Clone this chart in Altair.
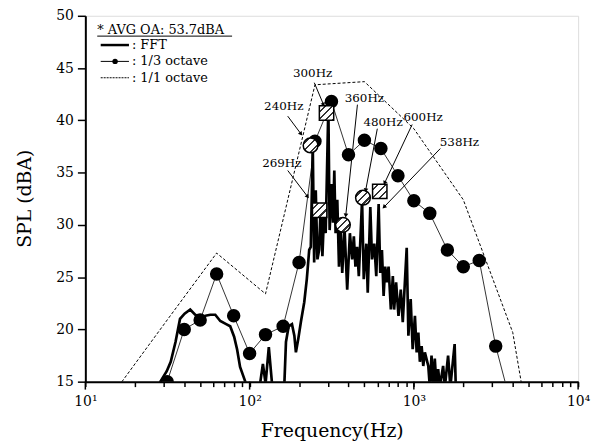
import altair as alt
import pandas as pd

# ---------------- data ----------------
# FFT narrow-band spectrum (Hz, dBA)
fft_freq = [26.5, 28.6, 31.3, 33.1, 35.4, 37.7, 40.2, 43.5, 46.6, 49.5,
            53.8, 57.7, 61.8, 66.3, 72.0, 76.2, 80.5, 83.9, 87.5, 93.2,
            96.4, 104.9, 115.1, 120.5, 125.1, 130.9, 137.5, 148.4, 162.9, 166.5,
            172.9, 181.1, 187.3, 191.4, 197.9, 205.2, 215.1, 223.0, 230.6, 235.8,
            242.4, 247.2, 252.8, 258.8, 265.0, 271.0, 277.5, 284.1, 290.5, 301.6,
            307.1, 315.8, 322.1, 327.9, 333.9, 341.9, 350.1, 357.9, 366.4, 378.4,
            392.8, 407.9, 421.1, 431.2, 440.9, 451.5, 462.3, 483.9, 495.5, 513.7,
            523.8, 543.1, 556.2, 574.2, 590.4, 610.4, 624.2, 639.2, 654.5, 669.2,
            685.1, 701.5, 724.3, 744.7, 758.3, 779.7, 806.2, 832.4, 855.9, 904.6,
            926.3, 956.4, 983.5, 1015, 1040, 1065, 1088, 1115, 1141, 1167,
            1224, 1251, 1281, 1312, 1341, 1373, 1406, 1441, 1507, 1545,
            1616, 1668, 1771, 1800]
fft_db = [13.0, 15.0, 16.0, 16.9, 18.8, 21.0, 21.5, 21.9, 21.4, 21.2,
          21.3, 21.4, 21.4, 20.8, 20.5, 20.3, 19.3, 18.1, 16.4, 15.2,
          14.5, 13.8, 14.5, 16.7, 14.8, 18.3, 14.5, 13.5, 14.9, 18.8,
          20.3, 20.5, 19.4, 17.8, 19.1, 20.7, 22.6, 24.8, 27.6, 27.9,
          37.7, 26.4, 33.3, 26.7, 27.6, 31.9, 27.0, 31.1, 29.2, 41.3,
          29.5, 33.9, 30.2, 35.2, 29.2, 32.4, 26.0, 30.2, 25.4, 29.7,
          23.8, 29.2, 26.7, 28.9, 26.0, 27.9, 25.1, 32.4, 24.8, 28.2,
          23.5, 31.7, 26.7, 28.2, 25.1, 32.0, 25.4, 27.6, 23.2, 26.0,
          24.5, 26.0, 21.9, 25.1, 21.9, 24.5, 21.3, 23.8, 20.7, 27.8,
          19.4, 22.9, 18.1, 21.3, 17.8, 19.7, 16.9, 18.4, 16.5, 17.8,
          16.5, 14.5, 17.5, 14.5, 17.2, 14.5, 16.2, 14.5, 16.5, 14.5,
          17.5, 14.5, 18.6, 14.5]

# 1/3 octave band levels
third_freq = [31.5, 40, 50, 63, 80, 100, 125, 160, 200, 250, 315, 400,
              500, 630, 800, 1000, 1250, 1600, 2000, 2500, 3150, 4000]
third_db = [15.0, 20.0, 20.9, 25.3, 21.3, 17.7, 19.5, 20.3, 26.4, 38.0, 41.8, 36.7,
            38.1, 37.3, 34.7, 32.3, 31.1, 27.6, 26.0, 26.6, 18.4, 12.2]

# 1/1 octave band levels
oct_freq = [16, 31.5, 63, 125, 250, 500, 1000, 2000, 4000, 8000]
oct_db = [14.6, 20.9, 27.3, 23.4, 43.4, 43.7, 39.2, 32.4, 19.7, -8.0]

# hatched markers
circ_freq = [235, 370, 490]
circ_db = [37.6, 30.0, 32.6]
sq_freq = [267, 294, 620]
sq_db = [31.4, 40.7, 33.2]

# annotation labels and arrows
lab_text = ["240Hz", "269Hz", "300Hz", "360Hz", "480Hz", "600Hz", "538Hz"]
lab_freq = [161.4, 157.0, 241.9, 499.7, 649.6, 1139, 1895]
lab_db = [41.4, 35.9, 44.5, 42.15, 39.8, 40.3, 37.9]
arr_f1 = [170.6, 170.7, 247.6, 453.4, 599.2, 976.5, 1449]
arr_d1 = [40.4, 35.2, 43.6, 41.5, 39.2, 39.6, 37.3]
arr_f2 = [205.5, 225.6, 282.0, 385.0, 508.9, 663.5, 657.9]
arr_d2 = [38.7, 32.7, 41.5, 30.9, 33.3, 34.0, 31.7]
arr_angle = [144, 143, 157, 186, 191, 205, 224]

x_ticks = [10, 20, 30, 40, 50, 60, 70, 80, 90,
           100, 200, 300, 400, 500, 600, 700, 800, 900,
           1000, 2000, 3000, 4000, 5000, 6000, 7000, 8000, 9000, 10000]
decades = [10, 100, 1000, 10000]
y_ticks = [15, 20, 25, 30, 35, 40, 45, 50]

SERIF = "DejaVu Serif"

# ---------------- tables ----------------
fft_df = pd.DataFrame({"f": fft_freq, "db": fft_db})
third_df = pd.DataFrame({"f": third_freq, "db": third_db})
oct_df = pd.DataFrame({"f": oct_freq, "db": oct_db})
circ_df = pd.DataFrame({"f": circ_freq, "db": circ_db})
sq_df = pd.DataFrame({"f": sq_freq, "db": sq_db})
lab_df = pd.DataFrame({"f": lab_freq, "db": lab_db, "t": lab_text})
arr_df = pd.DataFrame({"f": arr_f1, "db": arr_d1, "f2": arr_f2, "db2": arr_d2,
                       "ang": arr_angle})
dec_df = pd.DataFrame({"f": decades})
one = pd.DataFrame({"a": [0]})

x_scale = alt.Scale(type="log", domain=[10, 10000], nice=False)
y_scale = alt.Scale(domain=[15, 50], nice=False)

x_axis = alt.Axis(values=x_ticks, tickSize=5, tickWidth=1.5, tickColor="black",
                  domainColor="black", domainWidth=2, grid=False,
                  labelExpr="datum.value == 10 ? '10¹' : datum.value == 100 ? '10²' : "
                            "datum.value == 1000 ? '10³' : datum.value == 10000 ? '10⁴' : ''",
                  labelFont=SERIF, labelFontSize=14, labelColor="black",
                  labelPadding=8, labelFlush=False, labelOverlap=False,
                  titleFont=SERIF, titleFontSize=19, titleFontWeight="normal",
                  titleColor="black", titleY=49, titleBaseline="middle")
y_axis = alt.Axis(values=y_ticks, tickSize=8, tickWidth=1.5, tickColor="black",
                  domainColor="black", domainWidth=2, grid=False,
                  labelFont=SERIF, labelFontSize=14, labelColor="black",
                  labelPadding=4,
                  titleFont=SERIF, titleFontSize=19, titleFontWeight="normal",
                  titleColor="black", titleX=-61, titleY=184, titleAngle=-90,
                  titleBaseline="middle", titleAlign="center")

X = alt.X("f:Q", scale=x_scale, axis=x_axis, title="Frequency(Hz)")
Y = alt.Y("db:Q", scale=y_scale, axis=y_axis, title="SPL (dBA)")

oct_line = alt.Chart(oct_df).mark_line(clip=True, color="black", strokeWidth=1,
                                       strokeDash=[3, 2]).encode(x=X, y=Y)
third_line = alt.Chart(third_df).mark_line(clip=True, color="#333333",
                                           strokeWidth=1).encode(x=X, y=Y)
fft_line = alt.Chart(fft_df).mark_line(clip=True, color="black", strokeWidth=2.7,
                                       strokeJoin="miter").encode(x=X, y=Y)
third_pts = alt.Chart(third_df).mark_circle(clip=True, color="black", size=185,
                                            opacity=1).encode(x=X, y=Y)


def hatch(n=4):
    stops = []
    for i in range(n):
        a, b, c = i / n, (i + 0.7) / n, (i + 1) / n
        stops += [alt.GradientStop(color="white", offset=a),
                  alt.GradientStop(color="white", offset=b),
                  alt.GradientStop(color="#333333", offset=b),
                  alt.GradientStop(color="#333333", offset=c)]
    return alt.LinearGradient(gradient="linear", stops=stops, x1=0, y1=0, x2=1, y2=1)


circ_pts = alt.Chart(circ_df).mark_point(shape="circle", filled=True, fill=hatch(),
                                         stroke="black", strokeWidth=1.5, size=220,
                                         opacity=1).encode(x=X, y=Y)
sq_pts = alt.Chart(sq_df).mark_point(shape="square", filled=True, fill=hatch(),
                                     stroke="black", strokeWidth=1.5, size=210,
                                     opacity=1).encode(x=X, y=Y)

arrows = alt.Chart(arr_df).mark_rule(color="black", strokeWidth=1).encode(
    x=X, y=Y, x2="f2:Q", y2="db2:Q")
heads = alt.Chart(arr_df).mark_point(shape="triangle-up", filled=True, color="black",
                                     size=22, opacity=1).encode(
    x=alt.X("f2:Q", scale=x_scale, axis=x_axis, title="Frequency(Hz)"),
    y=alt.Y("db2:Q", scale=y_scale, axis=y_axis, title="SPL (dBA)"),
    angle=alt.Angle("ang:Q", scale=None))
labels = alt.Chart(lab_df).mark_text(font=SERIF, fontSize=12, color="black").encode(
    x=X, y=Y, text="t:N")

dec_ticks = alt.Chart(dec_df).mark_rule(color="black", strokeWidth=1.5).encode(
    x=X, y=alt.value(369), y2=alt.value(377))

# ---------------- legend box ----------------
leg_title = alt.Chart(one).mark_text(font=SERIF, fontSize=13, align="left",
                                     baseline="middle", color="black").encode(
    x=alt.value(12), y=alt.value(14), text=alt.value("* AVG OA: 53.7dBA"))
leg_under = alt.Chart(one).mark_rule(color="black", strokeWidth=1).encode(
    x=alt.value(12), x2=alt.value(148), y=alt.value(20.5))
leg_fft = alt.Chart(one).mark_rule(color="black", strokeWidth=2.5).encode(
    x=alt.value(15.5), x2=alt.value(44), y=alt.value(29.5))
leg_third = alt.Chart(one).mark_rule(color="black", strokeWidth=1).encode(
    x=alt.value(15.5), x2=alt.value(44), y=alt.value(46))
leg_third_dot = alt.Chart(one).mark_circle(color="black", size=30, opacity=1).encode(
    x=alt.value(30), y=alt.value(46))
leg_oct = alt.Chart(one).mark_rule(color="black", strokeWidth=1,
                                   strokeDash=[2, 1]).encode(
    x=alt.value(15.5), x2=alt.value(44), y=alt.value(62.5))
leg_text = alt.Chart(pd.DataFrame({"t": [": FFT", ": 1/3 octave", ": 1/1 octave"],
                                   "yy": [29.5, 46, 62.5]})).mark_text(
    font=SERIF, fontSize=13, align="left", baseline="middle", color="black").encode(
    x=alt.value(47), y=alt.Y("yy:Q", scale=None), text="t:N")

chart = alt.layer(
    oct_line, third_line, fft_line, third_pts, circ_pts, sq_pts, arrows, heads,
    labels, dec_ticks,
    leg_title, leg_under, leg_fft, leg_third, leg_third_dot, leg_oct, leg_text,
).properties(
    width=497, height=369,
    autosize=alt.AutoSizeParams(type="none"),
    padding={"left": 78, "top": 6, "right": 14, "bottom": 60},
).configure_view(
    stroke="black", strokeWidth=2
).configure(background="white")

chart.save("out.html", embed_options={"renderer": "svg", "actions": False})
